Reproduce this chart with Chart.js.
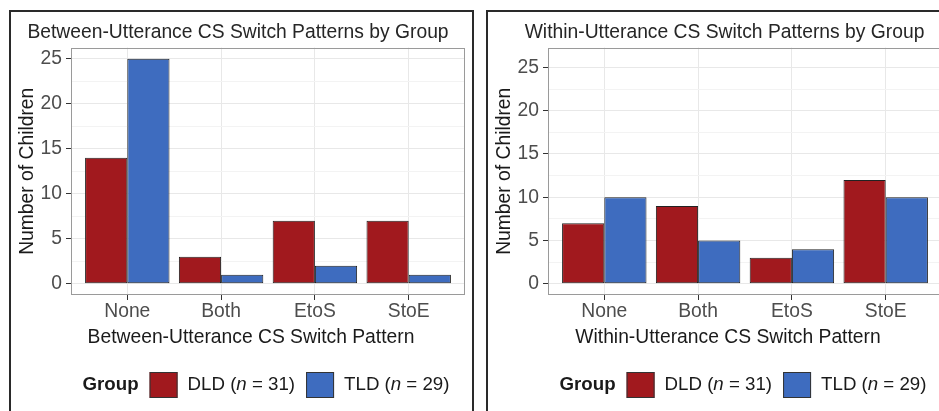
<!DOCTYPE html>
<html><head><meta charset="utf-8">
<script src="https://cdn.jsdelivr.net/npm/chart.js@4/dist/chart.umd.min.js"></script>
<style>
html,body{margin:0;padding:0;background:#fff;overflow:hidden;width:939px;height:411px;}
.box{position:absolute;top:10px;width:461px;height:420px;border:2px solid #2a2a2a;background:#fff;}
#b1{left:9px}
#b2{left:486px}
canvas{position:absolute;left:0;top:0}
</style></head><body>
<div class="box" id="b1"><canvas id="c1" width="461" height="400"></canvas></div>
<div class="box" id="b2"><canvas id="c2" width="461" height="400"></canvas></div>
<script>
const categories = ['None', 'Both', 'EtoS', 'StoE'];
const groups = ['DLD', 'TLD'];
const groupN = [31, 29];
const betweenDLD = [14, 3, 7, 7];
const betweenTLD = [25, 1, 2, 1];
const withinDLD = [7, 9, 3, 12];
const withinTLD = [10, 5, 4, 10];
const yTicks = [0, 5, 10, 15, 20, 25];
const yMinorTicks = [2.5, 7.5, 12.5, 17.5, 22.5];
const titles = ['Between-Utterance CS Switch Patterns by Group', 'Within-Utterance CS Switch Patterns by Group'];
const xTitles = ['Between-Utterance CS Switch Pattern', 'Within-Utterance CS Switch Pattern'];
const yTitle = 'Number of Children';
const colors = ['#a1191e', '#3e6cbf'];

const FONT = '"Liberation Sans", Arial, Helvetica, sans-serif';
const FS = 19.3;
const LFS = 18.7;

const decor = {
  id: 'decor',
  afterDraw(chart, args, opts) {
    const {ctx, chartArea: a} = chart;
    ctx.save();
    ctx.strokeStyle = '#9a9a9a';
    ctx.lineWidth = 1;
    const L = Math.round(a.left), T = Math.round(a.top), R = Math.round(a.right), B = Math.round(a.bottom);
    ctx.strokeRect(L + 0.5, T + 0.5, R - L - 1, B - T - 1);
    const cx = (a.left + a.right) / 2;
    // x axis title
    ctx.fillStyle = '#1a1a1a';
    ctx.font = FS + 'px ' + FONT;
    ctx.textAlign = 'center';
    ctx.textBaseline = 'middle';
    ctx.fillText(opts.xTitle, cx - 17, a.bottom + 43);
    // legend
    const y = a.bottom + 90;
    const bold = 'bold ' + LFS + 'px ' + FONT, norm = LFS + 'px ' + FONT, ital = 'italic ' + LFS + 'px ' + FONT;
    ctx.font = bold;
    const wG = ctx.measureText('Group').width;
    const items = groups.map((g, i) => {
      const parts = [[g + ' (', norm], ['n', ital], [' = ' + groupN[i] + ')', norm]];
      let w = 0;
      parts.forEach(p => { ctx.font = p[1]; p.push(ctx.measureText(p[0]).width); w += p[2]; });
      return {parts, w, color: colors[i]};
    });
    let total = wG;
    items.forEach(it => { total += 11 + 28 + 10 + it.w; });
    let x = cx - 2 - total / 2;
    ctx.textAlign = 'left';
    ctx.font = bold;
    ctx.fillStyle = '#1a1a1a';
    ctx.fillText('Group', x, y);
    x += wG;
    items.forEach(it => {
      x += 11;
      ctx.fillStyle = it.color;
      ctx.fillRect(x, y - 13, 28, 26);
      ctx.strokeStyle = '#333';
      ctx.lineWidth = 1;
      ctx.strokeRect(x + 0.5, y - 12.5, 27, 25);
      x += 28 + 10;
      ctx.fillStyle = '#1a1a1a';
      it.parts.forEach(p => { ctx.font = p[1]; ctx.fillText(p[0], x, y); x += p[2]; });
    });
    ctx.restore();
  }
};

function makeChart(id, dld, tld, title, xTitle, yMin, yMax, padL) {
  const sets = [dld, tld];
  return new Chart(document.getElementById(id), {
    type: 'bar',
    data: {
      datasets: groups.map((g, gi) => ({
        label: g + ' (n = ' + groupN[gi] + ')',
        data: categories.map((c, i) => ({x: i + 1, y: sets[gi][i]})),
        backgroundColor: colors[gi],
        borderColor: '#222',
        borderWidth: 1,
        borderSkipped: false,
        categoryPercentage: 0.9,
        barPercentage: 1.0
      }))
    },
    options: {
      responsive: false,
      animation: false,
      devicePixelRatio: 1,
      layout: {padding: {left: padL, right: 7, top: 0, bottom: 63}},
      plugins: {
        legend: {display: false},
        tooltip: {enabled: false},
        title: {display: true, text: title, color: '#262626', font: {size: FS, family: FONT, weight: 'normal'}, padding: {top: 9.4, bottom: 3}},
        decor: {xTitle: xTitle}
      },
      scales: {
        x: {
          type: 'linear', min: 0.4, max: 4.6, offset: false,
          grid: {offset: false, color: '#e8e8e8', lineWidth: 1, tickColor: '#333', tickLength: 5},
          border: {display: false},
          ticks: {font: {size: FS, family: FONT}, color: '#4d4d4d', padding: 0.5, autoSkip: false, maxRotation: 0,
                  callback: v => categories[Math.round(v) - 1]},
          afterBuildTicks: s => { s.ticks = categories.map((c, i) => ({value: i + 1})); },
          afterFit: s => { s.height = 54; }
        },
        y: {
          min: yMin, max: yMax,
          grid: {
            color: c => (c.tick && yMinorTicks.includes(c.tick.value)) ? '#f3f3f3' : '#e8e8e8',
            tickColor: c => (c.tick && yMinorTicks.includes(c.tick.value)) ? 'rgba(0,0,0,0)' : '#333',
            tickLength: 5, lineWidth: 1
          },
          border: {display: false},
          ticks: {font: {size: FS, family: FONT}, color: '#4d4d4d', padding: 4, autoSkip: false,
                  callback: v => yTicks.includes(v) ? String(v) : ''},
          afterBuildTicks: s => { s.ticks = yTicks.concat(yMinorTicks).sort((a, b) => a - b).map(v => ({value: v})); },
          title: {display: true, text: yTitle, color: '#1a1a1a', font: {size: FS, family: FONT}, padding: {top: 5.2 - padL, bottom: 0}},
          afterFit: s => { s.width = 60 - padL; }
        }
      }
    },
    plugins: [decor]
  });
}

makeChart('c1', betweenDLD, betweenTLD, titles[0], xTitles[0], -1.25, 26.25, 0);
makeChart('c2', withinDLD, withinTLD, titles[1], xTitles[1], -1.3, 27.3, 19);
</script>
</body></html>
